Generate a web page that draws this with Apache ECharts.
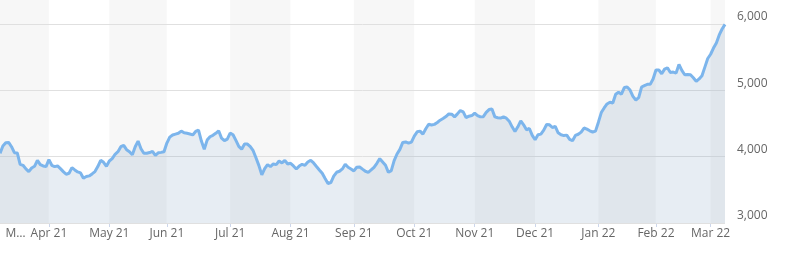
<!DOCTYPE html>
<html>
<head>
<meta charset="utf-8">
<script src="https://cdn.jsdelivr.net/npm/echarts@6/dist/echarts.min.js"></script>
<style>
html,body{margin:0;padding:0;background:#fff;}
#chart{width:785px;height:257px;}
</style>
</head>
<body>
<div id="chart"></div>
<script>
// Month labels and trading days of each month (categories)
const monthLabels = ['Mar 21','Apr 21','May 21','Jun 21','Jul 21','Aug 21','Sep 21','Oct 21','Nov 21','Dec 21','Jan 22','Feb 22','Mar 22'];
const monthDays = [
  [9,10,11,12,15,16,17,18,19,22,23,24,25,26,29,30,31],
  [1,5,6,7,8,9,12,13,14,15,16,19,20,21,22,23,26,27,28,29,30],
  [3,4,5,6,7,10,11,12,13,14,17,18,19,20,21,24,25,26,27,28],
  [1,2,3,4,7,8,9,10,11,14,15,16,17,18,21,22,23,24,25,28,29,30],
  [1,2,6,7,8,9,12,13,14,15,16,19,20,21,22,23,26,27,28,29,30],
  [2,3,4,5,6,9,10,11,12,13,16,17,18,19,20,23,24,25,26,27,30,31],
  [1,2,3,7,8,9,10,13,14,15,16,17,20,21,22,23,24,27,28,29,30],
  [1,4,5,6,7,8,11,12,13,14,15,18,19,20,21,22,25,26,27,28,29],
  [1,2,3,4,5,8,9,10,11,12,15,16,17,18,19,22,23,24,26,29,30],
  [1,2,3,6,7,8,9,10,13,14,15,16,17,20,21,22,23,27,28,29,30,31],
  [3,4,5,6,7,10,11,12,13,14,18,19,20,21,24,25,26,27,28,31],
  [1,2,3,4,7,8,9,10,11,14,15,16,17,18,22,23,24,25,28],
  [1,2,3,4,7,8]
];
// Series values (one per trading day)
const values = [
  4050,4160,4210,4215,4150,4060,4056,3885,3870,3815,
  3775,3830,3855,3945,3880,3860,3850,3955,3870,3850,
  3860,3820,3775,3735,3750,3835,3800,3770,3755,3675,
  3700,3710,3740,3775,3850,3945,3915,3855,3935,3970,
  4036,4075,4150,4170,4105,4075,4030,4150,4235,4120,
  4051,4052,4062,4080,4020,4058,4065,4075,4205,4295,
  4327,4340,4353,4385,4360,4352,4342,4328,4380,4400,
  4235,4111,4250,4300,4322,4352,4390,4280,4241,4265,
  4355,4330,4245,4155,4111,4190,4190,4150,4090,3980,
  3865,3725,3820,3880,3850,3890,3880,3935,3905,3945,
  3890,3900,3860,3815,3858,3885,3870,3920,3945,3905,
  3852,3800,3750,3670,3595,3610,3705,3765,3780,3815,
  3885,3840,3815,3785,3840,3845,3812,3780,3764,3800,
  3840,3900,3970,3920,3870,3764,3790,3940,4040,4110,
  4215,4222,4205,4220,4310,4375,4385,4340,4420,4488,
  4478,4487,4515,4550,4575,4605,4645,4640,4600,4645,
  4695,4675,4588,4610,4620,4655,4620,4600,4603,4668,
  4710,4719,4600,4587,4582,4600,4580,4535,4450,4380,
  4450,4540,4480,4405,4425,4320,4255,4330,4340,4400,
  4485,4480,4440,4455,4360,4330,4318,4325,4260,4240,
  4320,4338,4370,4432,4415,4390,4372,4385,4520,4665,
  4735,4795,4820,4810,4940,4970,4942,5042,5050,5005,
  4910,4855,4890,5050,5072,5090,5090,5170,5307,5307,
  5250,5320,5340,5270,5275,5260,5390,5300,5235,5240,
  5235,5190,5135,5172,5220,5350,5480,5544,5637,5715,
  5835,5925,5995
];
const yTicks = [3000, 4000, 5000, 6000];

// build categories
const categories = [];
const catMonth = [];
const monthStart = {};
monthDays.forEach((days, m) => {
  days.forEach((d, k) => {
    if (k === 0 && m > 0) monthStart[categories.length] = true;
    categories.push(monthLabels[m] + ' ' + d);
    catMonth.push(m);
  });
});
const lastIdx = categories.length - 1;

const chart = echarts.init(document.getElementById('chart'), null, {renderer: 'canvas'});
const font = '"Open Sans", sans-serif';
chart.setOption({
  animation: false,
  grid: {left: 0, right: 60, top: 0, bottom: 34, containLabel: false},
  xAxis: {
    type: 'category',
    data: categories,
    boundaryGap: false,
    z: 0,
    axisLine: {show: false},
    axisTick: {
      show: true, length: 4,
      lineStyle: {color: '#ccd6eb'},
      interval: (i) => !!monthStart[i]
    },
    axisLabel: {
      interval: (i) => i === 0 || !!monthStart[i],
      margin: 5,
      color: '#666666',
      fontSize: 12,
      fontFamily: font,
      formatter: (v, i) => {
        const m = monthLabels[catMonth[i]];
        if (i === 0) return '{first|' + m.charAt(0) + '\u2026}';
        return m;
      },
      rich: {
        first: {padding: [0, 0, 0, 31], color: '#666666', fontSize: 12, fontFamily: font}
      }
    },
    splitLine: {show: false},
    splitArea: {
      show: true,
      interval: (i) => i === 0 || i === lastIdx || !!monthStart[i],
      areaStyle: {color: ['#f7f7f7', '#ffffff']}
    }
  },
  yAxis: {
    type: 'value',
    position: 'right',
    min: yTicks[0],
    max: 6362,
    interval: 1000,
    z: 1,
    axisLine: {show: false},
    axisTick: {show: false},
    splitLine: {show: true, showMaxLine: false, lineStyle: {color: '#e0e0e0', width: 1}},
    axisLabel: {
      margin: 12,
      color: '#666666',
      fontSize: 12,
      fontFamily: font,
      verticalAlign: 'bottom',
      padding: [0, 0, 1, 0],
      showMaxLabel: false,
      formatter: (v) => yTicks.indexOf(v) >= 0 ? v.toLocaleString('en-US') : ''
    }
  },
  series: [{
    type: 'line',
    data: values,
    showSymbol: false,
    symbol: 'none',
    lineStyle: {color: '#7cb5ec', width: 3},
    areaStyle: {color: 'rgba(140,172,200,0.3)', origin: 'start'},
    z: 3
  }]
});
</script>
</body>
</html>
